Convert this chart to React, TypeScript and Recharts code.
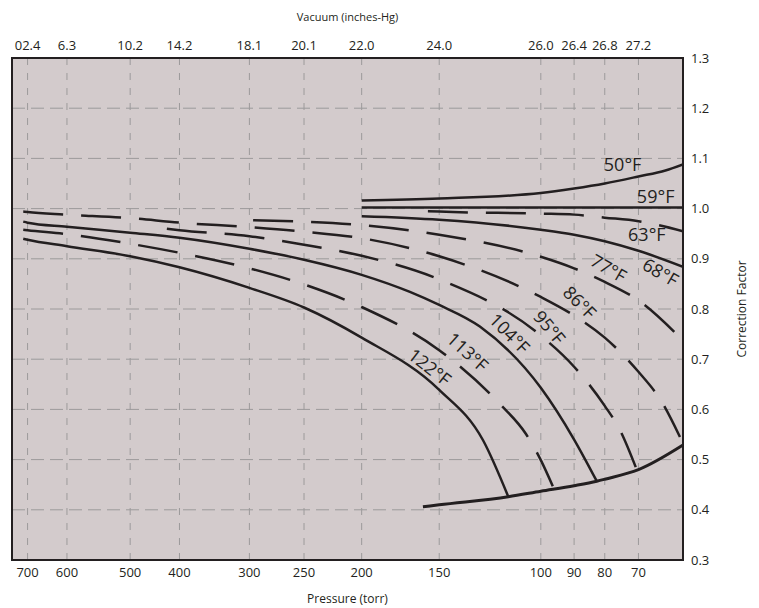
import React from 'react';
import { LineChart, Line, XAxis, YAxis, CartesianGrid, ReferenceArea, ReferenceDot } from 'recharts';

const FONT = "'Open Sans', sans-serif";
const INK = '#231f20';

// tick labels
const PRESSURE_TICKS = [700, 600, 500, 400, 300, 250, 200, 150, 100, 90, 80, 70];
const VACUUM_TICKS = ['02.4', '6.3', '10.2', '14.2', '18.1', '20.1', '22.0', '24.0', '26.0', '26.4', '26.8', '27.2'];
const FACTOR_TICKS = [0.3, 0.4, 0.5, 0.6, 0.7, 0.8, 0.9, 1.0, 1.1, 1.2, 1.3];

// the pressure axis is hand spaced, so map torr -> place along the axis (0..100)
const AXIS_PRESSURE = [739.6, 700, 600, 500, 400, 300, 250, 200, 150, 100, 90, 80, 70, 56.8];
const AXIS_STOP = [0, 2.32, 8.19, 17.61, 24.96, 35.38, 43.52, 52.11, 63.67, 78.81, 83.77, 88.34, 93.36, 100];

function toAxis(p: number) {
    for (let i = 0; i < AXIS_PRESSURE.length - 1; i++) {
        const a = AXIS_PRESSURE[i], b = AXIS_PRESSURE[i + 1];
        if (p <= a && p >= b) {
            return AXIS_STOP[i] + ((a - p) / (a - b)) * (AXIS_STOP[i + 1] - AXIS_STOP[i]);
        }
    }
    return p > AXIS_PRESSURE[0] ? 0 : 100;
}

// curves: pressure (torr) and correction factor
const P_50 = [200, 150, 100, 90, 80, 70, 62, 56.8];
const V_50 = [1.016, 1.02, 1.031, 1.04, 1.05, 1.064, 1.076, 1.088];

const P_59 = [200, 150, 100, 56.8];
const V_59 = [1.002, 1.002, 1.002, 1.002];

const P_63 = [157.3, 150, 100, 90, 80, 70, 64.6, 56.8];
const V_63 = [0.995, 0.994, 0.99, 0.988, 0.982, 0.975, 0.968, 0.955];

const P_68 = [200, 150, 100, 90, 80, 70, 56.8];
const V_68 = [0.985, 0.978, 0.958, 0.948, 0.935, 0.916, 0.884];

const P_77 = [296.6, 250, 200, 150, 100, 90, 80, 70, 56.8];
const V_77 = [0.977, 0.974, 0.967, 0.948, 0.904, 0.881, 0.854, 0.817, 0.737];

const P_86 = [711, 700, 600, 500, 400, 300, 250, 200, 150, 100, 90, 80, 70, 63.1, 57.7];
const V_86 = [0.994, 0.993, 0.988, 0.981, 0.972, 0.963, 0.954, 0.941, 0.905, 0.824, 0.787, 0.743, 0.675, 0.615, 0.545];

const P_95 = [425.6, 400, 300, 250, 200, 150, 100, 90, 80, 75.5, 70.8];
const V_95 = [0.96, 0.957, 0.945, 0.928, 0.906, 0.859, 0.747, 0.685, 0.607, 0.559, 0.485];

const P_104 = [711, 700, 600, 500, 400, 300, 250, 200, 168.9, 150, 130, 100, 90, 82.6];
const V_104 = [0.974, 0.972, 0.964, 0.952, 0.942, 0.92, 0.898, 0.868, 0.834, 0.808, 0.765, 0.643, 0.54, 0.457];

const P_113 = [711, 700, 600, 500, 400, 300, 250, 200, 150, 120.2, 107.3, 100, 96.4];
const V_113 = [0.958, 0.957, 0.949, 0.93, 0.912, 0.881, 0.849, 0.804, 0.718, 0.611, 0.551, 0.499, 0.447];

const P_122 = [711, 700, 600, 500, 400, 300, 250, 200, 150, 128.5, 116];
const V_122 = [0.94, 0.938, 0.925, 0.905, 0.883, 0.842, 0.803, 0.743, 0.639, 0.539, 0.426];

// lower limit line the hot curves run into
const P_LIMIT = [160.5, 150, 116, 100, 90, 82.6, 80, 70, 56.8];
const V_LIMIT = [0.406, 0.41, 0.426, 0.437, 0.448, 0.457, 0.461, 0.48, 0.529];

// curve names and where they sit (torr, factor)
const LABEL_TEXT = ['50°F', '59°F', '63°F', '68°F', '77°F', '86°F', '95°F', '104°F', '113°F', '122°F'];
const LABEL_P = [74.7, 64.9, 67.5, 63.4, 78.8, 88.1, 97.3, 115.2, 135.9, 156];
const LABEL_V = [1.088, 1.026, 0.95, 0.874, 0.882, 0.814, 0.764, 0.752, 0.715, 0.685];
const LABEL_ANGLE = [0, 0, 0, 30, 30, 45, 50, 45, 42, 38];

const build = (ps: number[], vs: number[]) => ps.map((p, i) => ({ x: toAxis(p), v: vs[i] }));

const CURVES = [
    { key: '50', data: build(P_50, V_50), dashed: false },
    { key: '59', data: build(P_59, V_59), dashed: false },
    { key: '63', data: build(P_63, V_63), dashed: true },
    { key: '68', data: build(P_68, V_68), dashed: false },
    { key: '77', data: build(P_77, V_77), dashed: true },
    { key: '86', data: build(P_86, V_86), dashed: true },
    { key: '95', data: build(P_95, V_95), dashed: true },
    { key: '104', data: build(P_104, V_104), dashed: false },
    { key: '113', data: build(P_113, V_113), dashed: true },
    { key: '122', data: build(P_122, V_122), dashed: false },
    { key: 'limit', data: build(P_LIMIT, V_LIMIT), dashed: false },
];

const tickPositions = PRESSURE_TICKS.map(toAxis);
const tickIndex = (val: number) => tickPositions.findIndex((t) => Math.abs(t - val) < 1e-6);

const tickStyle = { fontSize: 13, fill: INK, fontFamily: FONT };

export default function App() {
    return (
        <div style={{ position: 'absolute', left: 0, top: 0, width: 759, height: 608, background: '#fff' }}>
            <LineChart width={759} height={608} margin={{ top: 0, right: 0, bottom: 0, left: 12 }}>
                <CartesianGrid vertical={false} stroke="#9c9a9b" strokeDasharray="13 6" fill="#d3cbcc" fillOpacity={1} />
                <CartesianGrid horizontal={false} stroke="#9c9a9b" strokeDasharray="7 8" />
                <XAxis
                    dataKey="x"
                    type="number"
                    domain={[0, 100]}
                    allowDataOverflow
                    ticks={tickPositions}
                    interval={0}
                    tickFormatter={(val) => String(PRESSURE_TICKS[tickIndex(val)] ?? '')}
                    axisLine={false}
                    tickLine={false}
                    tick={tickStyle}
                    height={48}
                    label={{
                        content: ({ viewBox }: any) => (
                            <text x={viewBox.x + viewBox.width / 2} y={viewBox.y + viewBox.height - 5} textAnchor="middle" fontSize={12} fill={INK} fontFamily={FONT}>
                                Pressure (torr)
                            </text>
                        ),
                    }}
                />
                <XAxis
                    xAxisId="top"
                    orientation="top"
                    dataKey="x"
                    type="number"
                    domain={[0, 100]}
                    allowDataOverflow
                    ticks={tickPositions}
                    interval={0}
                    tickFormatter={(val) => VACUUM_TICKS[tickIndex(val)] ?? ''}
                    axisLine={false}
                    tickLine={false}
                    tick={tickStyle}
                    height={58}
                    label={{
                        content: ({ viewBox }: any) => (
                            <text x={viewBox.x + viewBox.width / 2} y={viewBox.y + 21} textAnchor="middle" fontSize={11} fill={INK} fontFamily={FONT}>
                                Vacuum (inches-Hg)
                            </text>
                        ),
                    }}
                />
                <YAxis
                    orientation="right"
                    type="number"
                    domain={[0.3, 1.3]}
                    ticks={FACTOR_TICKS}
                    interval={0}
                    tickFormatter={(v) => v.toFixed(1)}
                    axisLine={false}
                    tickLine={false}
                    tick={tickStyle}
                    width={76}
                    label={{
                        content: ({ viewBox }: any) => {
                            const cx = viewBox.x + 58;
                            const cy = viewBox.y + viewBox.height / 2;
                            return (
                                <text x={cx} y={cy} transform={`rotate(-90 ${cx} ${cy})`} textAnchor="middle" dominantBaseline="central" fontSize={12} fill={INK} fontFamily={FONT}>
                                    Correction Factor
                                </text>
                            );
                        },
                    }}
                />
                {CURVES.map((c) => (
                    <Line
                        key={c.key}
                        data={c.data}
                        dataKey="v"
                        type="monotone"
                        stroke={INK}
                        strokeWidth={c.key === 'limit' ? 3 : 2.5}
                        strokeDasharray={c.dashed ? '40 18' : undefined}
                        dot={false}
                        activeDot={false}
                        isAnimationActive={false}
                    />
                ))}
                <ReferenceArea x1={0} x2={100} y1={0.3} y2={1.3} fill="none" stroke={INK} strokeWidth={2} ifOverflow="visible" />
                {LABEL_TEXT.map((t, i) => (
                    <ReferenceDot
                        key={t}
                        x={toAxis(LABEL_P[i])}
                        y={LABEL_V[i]}
                        r={0}
                        fill="none"
                        stroke="none"
                        label={{
                            content: ({ viewBox }: any) => {
                                const cx = viewBox.x + (viewBox.width || 0) / 2;
                                const cy = viewBox.y + (viewBox.height || 0) / 2;
                                return (
                                    <text x={cx} y={cy} transform={`rotate(${LABEL_ANGLE[i]} ${cx} ${cy})`} textAnchor="middle" dominantBaseline="central" fontSize={18} fill={INK} fontFamily={FONT}>
                                        {t}
                                    </text>
                                );
                            },
                        }}
                    />
                ))}
            </LineChart>
        </div>
    );
}
